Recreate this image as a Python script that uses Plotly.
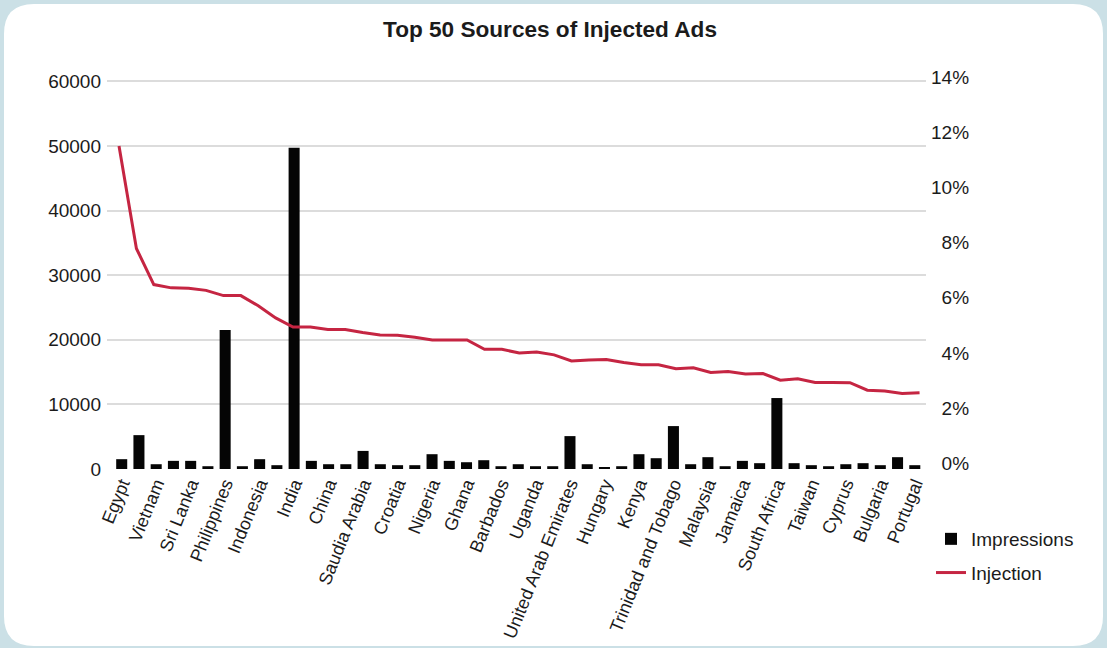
import plotly.graph_objects as go

# Countries labelled on the category axis (every second source)
labels = ["Egypt", "Vietnam", "Sri Lanka", "Philippines", "Indonesia", "India",
          "China", "Saudia Arabia", "Croatia", "Nigeria", "Ghana", "Barbados",
          "Uganda", "United Arab Emirates", "Hungary", "Kenya",
          "Trinidad and Tobago", "Malaysia", "Jamaica", "South Africa",
          "Taiwan", "Cyprus", "Bulgaria", "Portugal"]

# Ad impressions per source
impressions = [1520, 5240, 740, 1260, 1260, 430, 21500, 430, 1520, 590,
               49700, 1260, 740, 740, 2800, 740, 590, 590, 2290, 1260,
               1050, 1360, 430, 740, 430, 430, 5090, 740, 280, 430,
               2290, 1670, 6640, 740, 1830, 430, 1260, 900, 10980, 900,
               590, 430, 740, 900, 590, 1830, 590]

# Injection rate per source, in percent
injection = [11.51, 7.79, 6.48, 6.36, 6.35, 6.27, 6.08, 6.08, 5.71, 5.27,
             4.94, 4.94, 4.85, 4.85, 4.74, 4.65, 4.64, 4.57, 4.47, 4.47,
             4.47, 4.13, 4.13, 4.00, 4.03, 3.93, 3.71, 3.74, 3.76, 3.65,
             3.57, 3.57, 3.43, 3.46, 3.29, 3.33, 3.24, 3.25, 3.01, 3.06,
             2.93, 2.93, 2.92, 2.65, 2.62, 2.53, 2.56]

left_ticks = [0, 10000, 20000, 30000, 40000, 50000, 60000]
right_ticks = [0, 2, 4, 6, 8, 10, 12, 14]

idx = list(range(len(impressions)))
label_pos = idx[::2]

W, H = 1107, 648
ML, MR, MT, MB = 107, 181, 76, 179
PW, PH = W - ML - MR, H - MT - MB

FONT = "Liberation Sans, Arial, sans-serif"
TXT = "#1b1b1b"
FS = 19


def px(x):
    return (x - ML) / PW


def py(y):
    return (H - MB - y) / PH


# white rounded card on the tinted page
x0, x1, y0, y1, r = 4, 1103, 4, 646, 30
card = (f"M{px(x0 + r)},{py(y0)} L{px(x1 - r)},{py(y0)} "
        f"Q{px(x1)},{py(y0)} {px(x1)},{py(y0 + r)} "
        f"L{px(x1)},{py(y1 - r)} Q{px(x1)},{py(y1)} {px(x1 - r)},{py(y1)} "
        f"L{px(x0 + r)},{py(y1)} Q{px(x0)},{py(y1)} {px(x0)},{py(y1 - r)} "
        f"L{px(x0)},{py(y0 + r)} Q{px(x0)},{py(y0)} {px(x0 + r)},{py(y0)} Z")

fig = go.Figure()
fig.add_trace(go.Bar(x=idx, y=impressions, name="Impressions", legendgroup="a",
                     marker=dict(color="#050505", line=dict(width=0))))
fig.add_trace(go.Scatter(x=idx, y=injection, name="Injection", mode="lines",
                         legendgroup="b", xaxis="x2", yaxis="y2",
                         line=dict(color="#c52542", width=3)))

fig.update_layout(
    width=W, height=H,
    margin=dict(l=ML, r=MR, t=MT, b=MB, pad=0, autoexpand=False),
    paper_bgcolor="#cbe0e6",
    plot_bgcolor="rgba(0,0,0,0)",
    bargap=0.36,
    showlegend=True,
    title=dict(text="<b>Top 50 Sources of Injected Ads</b>",
               x=550 / W, xref="container", xanchor="center",
               y=1 - 29 / H, yref="container", yanchor="middle",
               font=dict(family=FONT, size=22.6, color=TXT)),
    xaxis=dict(range=[-0.853, 46.65], tickmode="array", tickvals=label_pos,
               ticktext=labels, tickangle=-68, showgrid=False, zeroline=False,
               showline=False, ticks="", automargin=False,
               tickfont=dict(family=FONT, size=18, color=TXT)),
    xaxis2=dict(range=[-0.69, 46.37], overlaying="x", visible=False),
    yaxis=dict(range=[0, 60820], tickmode="array", tickvals=left_ticks,
               ticktext=[str(v) for v in left_ticks], ticklabelstandoff=5,
               showgrid=True, gridcolor="#dcdcdc", gridwidth=1.5,
               zeroline=False, showline=False, ticks="", automargin=False,
               tickfont=dict(family=FONT, size=FS, color=TXT)),
    yaxis2=dict(range=[-0.21, 14.045], overlaying="y", side="right", anchor="x",
                tickmode="array", tickvals=right_ticks, ticklabelstandoff=4,
                ticktext=[(f"{v}%" if v >= 10 else f"\u2007{v}%") for v in right_ticks],
                showgrid=False, zeroline=False, showline=False, ticks="",
                automargin=False,
                tickfont=dict(family=FONT, size=FS, color=TXT)),
    legend=dict(x=px(931), y=py(520), xanchor="left", yanchor="top",
                bgcolor="rgba(0,0,0,0)", traceorder="grouped", tracegroupgap=6,
                font=dict(family=FONT, size=FS, color=TXT)),
    shapes=[dict(type="path", path=card, xref="paper", yref="paper",
                 fillcolor="white", line=dict(width=0), layer="below")],
)

fig.write_html("out.html")
